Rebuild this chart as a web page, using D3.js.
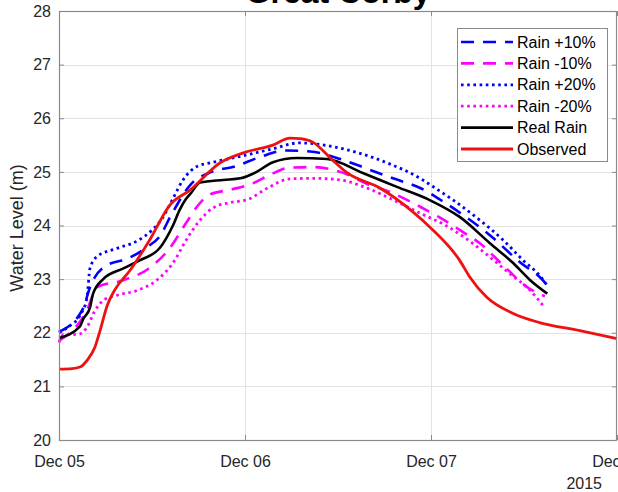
<!DOCTYPE html>
<html>
<head>
<meta charset="utf-8">
<script src="https://cdn.jsdelivr.net/npm/d3@7"></script>
<style>
  html, body { margin: 0; padding: 0; background: #fff; }
  svg { display: block; }
  text { font-family: "Liberation Sans", Arial, sans-serif; }
</style>
</head>
<body>
<svg id="chart" width="618" height="492"></svg>
<script>
// Hours after 2015-12-05 00:00 and water level (m) for each run
const hoursPlus10 = [0, 3.1, 4.0, 6.2, 8.8, 11.4, 13.0, 14.5, 16.9, 19.7, 22.7, 26.0, 29.3, 32.4, 36.3, 39.7, 43.1, 46.6, 49.2, 52.1, 55.6, 59.6, 62.3, 62.9];
const levelPlus10 = [22.02, 22.45, 22.85, 23.26, 23.38, 23.6, 23.8, 24.2, 24.75, 25.0, 25.1, 25.28, 25.4, 25.38, 25.24, 25.06, 24.88, 24.7, 24.48, 24.2, 23.82, 23.3, 23.0, 22.9];

const hoursMinus10 = [0, 3.6, 4.9, 8.3, 11.4, 14.3, 16.5, 17.8, 19.5, 22.2, 24.9, 27.3, 29.8, 32.7, 36.3, 39.7, 43.1, 46.6, 49.0, 52.1, 54.3, 57.3, 60.4, 62.7];
const levelMinus10 = [21.85, 22.42, 22.85, 22.98, 23.18, 23.58, 24.07, 24.35, 24.58, 24.67, 24.78, 24.95, 25.08, 25.09, 25.0, 24.78, 24.6, 24.35, 24.16, 23.88, 23.67, 23.26, 22.85, 22.68];

const hoursPlus20 = [0, 1.3, 2.7, 3.6, 4.0, 4.9, 7.4, 10.2, 11.9, 13.4, 14.7, 16.0, 17.8, 19.6, 23.1, 27.6, 31.0, 35.0, 38.5, 42.3, 46.6, 48.0, 50.8, 54.3, 57.3, 59.9, 62.0, 62.9];
const levelPlus20 = [22.0, 22.12, 22.32, 22.65, 23.2, 23.42, 23.57, 23.72, 23.9, 24.15, 24.5, 24.85, 25.1, 25.17, 25.28, 25.43, 25.54, 25.48, 25.36, 25.17, 24.88, 24.75, 24.48, 24.1, 23.73, 23.35, 23.07, 22.9];

const hoursMinus20 = [0, 0.5, 2.7, 3.6, 4.6, 5.7, 7.5, 10.1, 12.6, 14.7, 16.5, 18.2, 19.9, 22.2, 24.3, 26.8, 29.8, 32.8, 36.3, 39.7, 43.1, 46.6, 49.9, 52.6, 55.6, 58.1, 60.8, 62.5];
const levelMinus20 = [21.82, 21.95, 21.98, 22.1, 22.4, 22.6, 22.7, 22.79, 22.98, 23.3, 23.75, 24.1, 24.33, 24.43, 24.48, 24.69, 24.87, 24.88, 24.85, 24.7, 24.48, 24.23, 24.0, 23.75, 23.41, 23.11, 22.79, 22.5];

const hoursReal = [0, 2.7, 3.1, 4.0, 4.4, 5.7, 8.3, 10.4, 13.0, 14.7, 15.6, 16.4, 17.0, 18.2, 21.2, 23.4, 25.5, 27.6, 30.7, 34.6, 39.2, 43.6, 47.9, 51.7, 55.6, 58.6, 60.8, 63.0];
const levelReal = [21.9, 22.12, 22.25, 22.47, 22.73, 23.0, 23.2, 23.35, 23.58, 24.0, 24.3, 24.5, 24.6, 24.8, 24.85, 24.88, 25.0, 25.18, 25.26, 25.24, 24.98, 24.72, 24.47, 24.16, 23.67, 23.3, 22.98, 22.73];

const hoursObserved = [0, 1.7, 2.7, 3.7, 4.6, 5.3, 6.2, 7.2, 9.2, 11.7, 14.3, 16.9, 20.8, 23.9, 27.6, 29.8, 31.1, 32.8, 35.0, 37.2, 41.4, 45.7, 48.0, 51.7, 53.0, 55.2, 58.6, 62.0, 67.2, 72.0];
const levelObserved = [21.32, 21.33, 21.36, 21.5, 21.72, 22.04, 22.5, 22.8, 23.17, 23.73, 24.38, 24.66, 25.17, 25.36, 25.5, 25.63, 25.62, 25.55, 25.26, 24.98, 24.7, 24.25, 23.95, 23.35, 23.04, 22.66, 22.36, 22.19, 22.04, 21.89];

const seriesNames = ["Rain +10%", "Rain -10%", "Rain +20%", "Rain -20%", "Real Rain", "Observed"];
const yTicks = [20, 21, 22, 23, 24, 25, 26, 27, 28];
const dayTicks = ["2015-12-05", "2015-12-06", "2015-12-07", "2015-12-08"];
const titleText = "Great Corby";
const yLabel = "Water Level (m)";
const yearLabel = "2015";

const start = Date.UTC(2015, 11, 5);
const toPoints = (hours, levels) => hours.map((h, i) => ({ t: new Date(start + h * 3600e3), v: levels[i] }));

const series = [
  { name: seriesNames[0], pts: toPoints(hoursPlus10, levelPlus10), color: "#0000ff", dash: "13,9", width: 2.6 },
  { name: seriesNames[1], pts: toPoints(hoursMinus10, levelMinus10), color: "#ff00ff", dash: "13,9", width: 2.6 },
  { name: seriesNames[2], pts: toPoints(hoursPlus20, levelPlus20), color: "#0000ff", dash: "2.6,3.6", width: 2.8 },
  { name: seriesNames[3], pts: toPoints(hoursMinus20, levelMinus20), color: "#ff00ff", dash: "2.6,3.6", width: 2.8 },
  { name: seriesNames[4], pts: toPoints(hoursReal, levelReal), color: "#000000", dash: null, width: 2.6 },
  { name: seriesNames[5], pts: toPoints(hoursObserved, levelObserved), color: "#ee1111", dash: null, width: 2.8 }
];

const svg = d3.select("#chart");
const m = { left: 59, right: 617, top: 11, bottom: 440 };

const x = d3.scaleUtc()
  .domain([new Date(start), new Date(start + 3 * 86400e3)])
  .range([m.left, m.right]);
const y = d3.scaleLinear().domain([20, 28]).range([m.bottom, m.top]);

const dayDates = dayTicks.map(s => new Date(s + "T00:00:00Z"));
const fmt = d3.utcFormat("%b %d");

// grid
const grid = svg.append("g").attr("stroke", "#e3e3e3").attr("stroke-width", 1);
yTicks.slice(1, -1).forEach(v => {
  grid.append("line").attr("x1", m.left).attr("x2", m.right)
    .attr("y1", Math.round(y(v)) + 0.5).attr("y2", Math.round(y(v)) + 0.5);
});
dayDates.slice(1, -1).forEach(d => {
  grid.append("line").attr("y1", m.top).attr("y2", m.bottom)
    .attr("x1", Math.round(x(d)) + 0.5).attr("x2", Math.round(x(d)) + 0.5);
});

// data lines
const line = d3.line().x(d => x(d.t)).y(d => y(d.v)).curve(d3.curveMonotoneX);
const plot = svg.append("g");
series.forEach(s => {
  plot.append("path")
    .attr("d", line(s.pts))
    .attr("fill", "none")
    .attr("stroke", s.color)
    .attr("stroke-width", s.width)
    .attr("stroke-dasharray", s.dash)
    .attr("stroke-linejoin", "round");
});

// axes (ticks pointing into the plot)
const axisColor = "#8a8a8a";
const styleAxis = g => {
  g.select(".domain").remove();
  g.selectAll(".tick line").attr("stroke", axisColor);
  g.selectAll(".tick text").attr("fill", "#262626").style("font-size", "16px")
    .style("font-family", "'Liberation Sans', Arial, sans-serif");
};

svg.append("g").attr("transform", `translate(${m.left},0)`)
  .call(d3.axisLeft(y).tickValues(yTicks).tickFormat(d3.format("d")).tickSizeInner(-5).tickSizeOuter(0).tickPadding(8))
  .call(styleAxis);
svg.append("g").attr("transform", `translate(${m.right},0)`)
  .call(d3.axisRight(y).tickValues(yTicks).tickFormat("").tickSizeInner(-5).tickSizeOuter(0))
  .call(styleAxis);
svg.append("g").attr("transform", `translate(0,${m.bottom})`)
  .call(d3.axisBottom(x).tickValues(dayDates).tickFormat(fmt).tickSizeInner(-5).tickSizeOuter(0).tickPadding(16))
  .call(styleAxis);
svg.append("g").attr("transform", `translate(0,${m.top})`)
  .call(d3.axisTop(x).tickValues(dayDates).tickFormat("").tickSizeInner(-5).tickSizeOuter(0))
  .call(styleAxis);

// plot box
svg.append("rect")
  .attr("x", m.left + 0.5).attr("y", m.top + 0.5)
  .attr("width", m.right - m.left - 1).attr("height", m.bottom - m.top)
  .attr("fill", "none").attr("stroke", axisColor).attr("stroke-width", 1.2);

// year under the last date tick
svg.append("text").attr("x", 602).attr("y", 489).attr("text-anchor", "end")
  .style("font-size", "16px").attr("fill", "#262626").text(yearLabel);

// y label
svg.append("text")
  .attr("transform", "translate(23,228) rotate(-90)")
  .attr("text-anchor", "middle")
  .style("font-size", "18px").attr("fill", "#262626").text(yLabel);

// title (partly above the page)
svg.append("text").attr("x", (m.left + m.right) / 2).attr("y", 3)
  .attr("text-anchor", "middle").style("font-size", "32px").style("font-weight", "bold")
  .attr("fill", "#000").text(titleText);

// legend
const lg = svg.append("g");
lg.append("rect").attr("x", 457.5).attr("y", 28.5).attr("width", 150).attr("height", 133)
  .attr("fill", "#fff").attr("stroke", axisColor).attr("stroke-width", 1);
series.forEach((s, i) => {
  const cy = 42 + i * 21.4;
  lg.append("line").attr("x1", 461).attr("x2", 513).attr("y1", cy).attr("y2", cy)
    .attr("stroke", s.color).attr("stroke-width", s.width).attr("stroke-dasharray", s.dash);
  lg.append("text").attr("x", 517).attr("y", cy + 5.5)
    .style("font-size", "16px").attr("fill", "#000").text(s.name);
});
</script>
</body>
</html>
